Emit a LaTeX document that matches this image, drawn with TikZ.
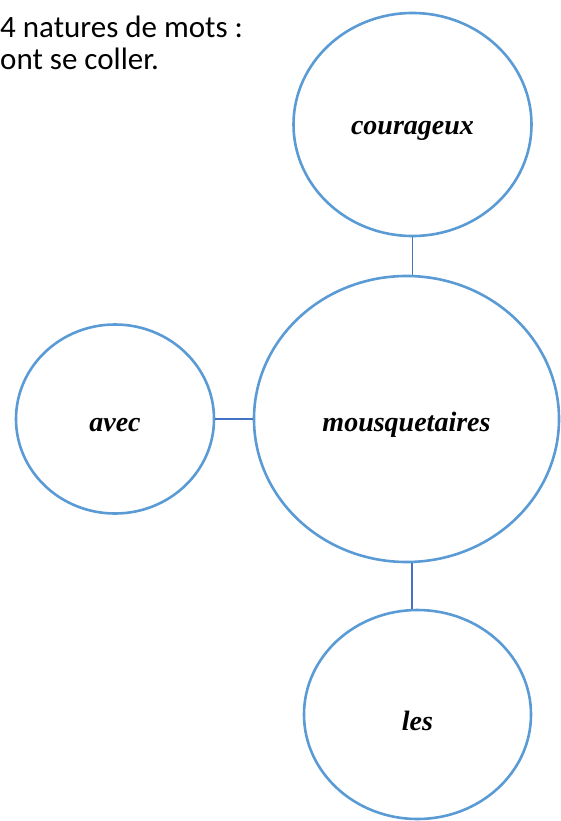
\documentclass[tikz,border=0pt]{standalone}
\usepackage{fontspec}
\setmainfont{Carlito}
\newfontfamily\lblfont{Liberation Serif}
\usetikzlibrary{shapes.geometric}
\definecolor{circ}{HTML}{5B9BD5}
\definecolor{conn}{HTML}{4472C4}
\newcommand{\lowered}[1]{\raisebox{0pt}[\dimexpr\height+12pt\relax][\depth]{#1}}
\begin{document}
\begin{tikzpicture}[x=1pt,y=-1pt,
  bub/.style={ellipse, draw=circ, line width=2.6pt, inner sep=0pt,
    font=\lblfont\bfseries\itshape\fontsize{28}{32}\selectfont},
  link/.style={draw=conn, line width=1.3pt},
  txt/.style={anchor=base west, inner sep=0pt, font=\fontsize{31}{37}\selectfont}]
\useasboundingbox (0,0) rectangle (561,821);
\node[txt] (l1) at (0,38) {4 natures de mots :};
\node[txt] (l2) at (0,70) {ont se coller.};
\node[bub, minimum width=238, minimum height=223] (cour) at (412.5,124.5) {\lowered{courageux}};
\node[bub, minimum width=305, minimum height=286] (mous) at (406.5,419) {\lowered{mousquetaires}};
\node[bub, minimum width=198, minimum height=189] (avec) at (115,419) {\lowered{avec}};
\node[bub, minimum width=227, minimum height=209] (les) at (417.5,714.5) {\lowered{les}};
\coordinate (axis) at (412,0);
\draw[link] (cour.south) -- (cour.south |- mous.north);
\draw[link] (avec.east) -- (avec.east -| mous.west);
\draw[link] (axis |- mous.south) -- (axis |- les.north);
\end{tikzpicture}
\end{document}
